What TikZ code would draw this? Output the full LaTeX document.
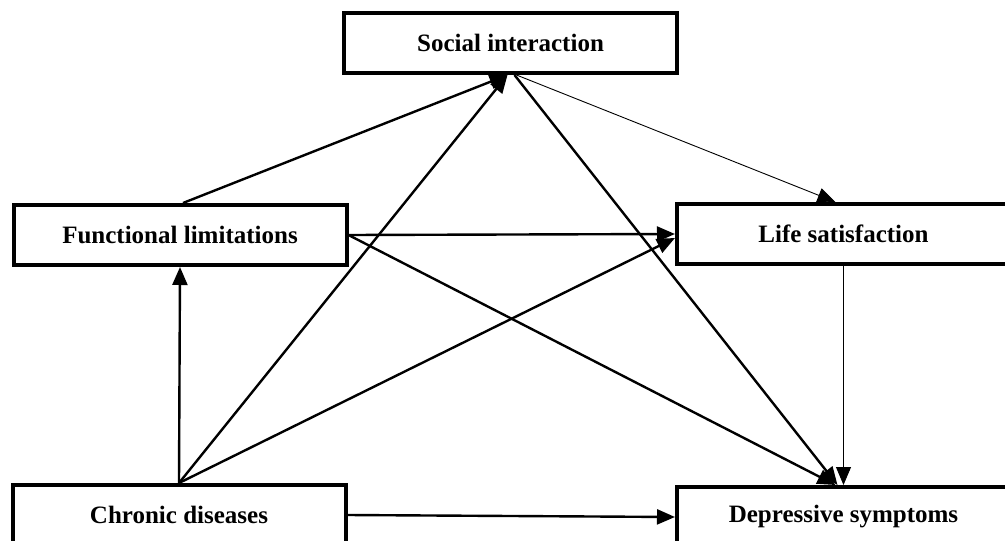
\documentclass[tikz,border=0pt]{standalone}
\usepackage{fontspec}
\setmainfont{Liberation Serif}
\usetikzlibrary{arrows.meta}
\begin{document}
\begin{tikzpicture}[x=1pt,y=-1pt,
  box/.style={draw=black,line width=4pt,minimum width=333pt,minimum height=60pt,inner sep=0pt,
    font=\fontsize{25}{28}\selectfont\bfseries,fill=white},
  conn/.style={line width=2.4pt,-{Triangle[length=18pt,width=15pt]}},
  thinconn/.style={line width=0.9pt,-{Triangle[length=18pt,width=15pt]}}]
\useasboundingbox (0,0) rectangle (1005,541);
\clip (0,0) rectangle (1005,541);
\node[box] (si) at (510.5,43) {Social interaction};
\node[box] (fl) at (180,235) {Functional limitations};
\node[box] (ls) at (843.5,234) {Life satisfaction};
\node[box] (cd) at (179,515) {Chronic diseases};
\node[box] (ds) at (843.5,517) {Depressive symptoms};
\draw[conn] ([xshift=3pt]fl.north) -- ([xshift=-3pt]si.south);
\draw[conn] (cd.north) -- ([xshift=-3pt]si.south);
\draw[conn] ([xshift=4pt]si.south) -- ([xshift=-6pt]ds.north);
\draw[thinconn] ([xshift=6pt]si.south) -- ([xshift=-8pt]ls.north);
\draw[conn] (fl.east) -- (ls.west);
\draw[conn] (fl.east) -- ([xshift=-8pt]ds.north);
\draw[conn] (cd.north) -- ([yshift=-4pt]ls.west);
\draw[conn] (cd.north) -- (fl.south);
\draw[conn] (cd.east) -- (ds.west);
\draw[thinconn] (ls.south) -- (ds.north);
\end{tikzpicture}
\end{document}
